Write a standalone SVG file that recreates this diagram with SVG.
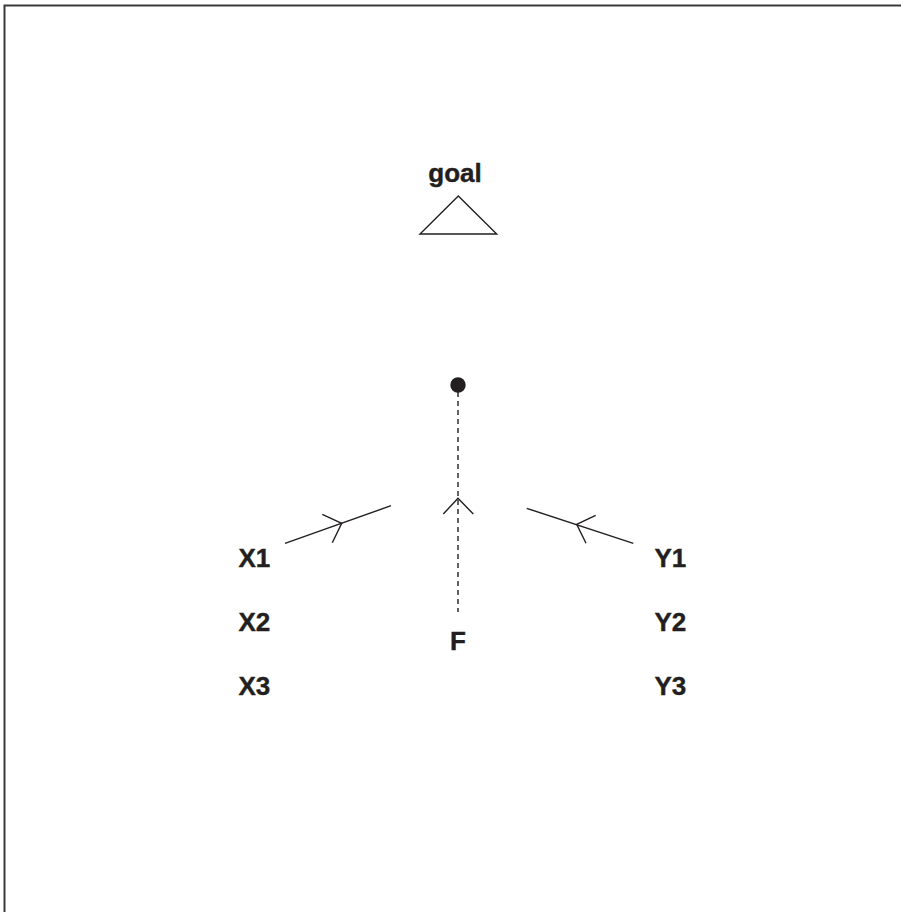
<svg xmlns="http://www.w3.org/2000/svg" width="901" height="912" viewBox="0 0 901 912">
<style>
.lbl{font-family:"Liberation Sans",Arial,Helvetica,sans-serif;font-weight:bold;font-size:26px;fill:#231f20;stroke:#231f20;stroke-width:0.4}
.ln{fill:none;stroke:#231f20;stroke-width:1.4}
.dash{fill:none;stroke:#231f20;stroke-width:1.4;stroke-dasharray:5 4}
</style>
<rect x="0" y="0" width="901" height="912" fill="#ffffff"/>
<path d="M4.5 912 V5.5 H901" fill="none" stroke="#3a3a3a" stroke-width="2"/>
<g id="goal">
<text class="lbl" x="455" y="182" text-anchor="middle">goal</text>
<polygon class="ln" points="458.3,196 420,234 496.7,234"/>
</g>
<g id="node-center">
<circle cx="458" cy="385" r="7.7" fill="#231f20"/>
</g>
<g id="X1"><text class="lbl" x="238.5" y="567">X1</text></g>
<g id="X2"><text class="lbl" x="238.5" y="631">X2</text></g>
<g id="X3"><text class="lbl" x="238.5" y="695">X3</text></g>
<g id="Y1"><text class="lbl" x="654.5" y="567">Y1</text></g>
<g id="Y2"><text class="lbl" x="654.5" y="631">Y2</text></g>
<g id="Y3"><text class="lbl" x="654.5" y="695">Y3</text></g>
<g id="F"><text class="lbl" x="458" y="650" text-anchor="middle">F</text></g>
<g id="connectors">
<line class="dash" x1="458" y1="392" x2="458" y2="612"/>
<polyline class="ln" points="443.3,514 458,498.3 473.3,514"/>
<line class="ln" x1="285" y1="543.3" x2="391" y2="505.7"/>
<polyline class="ln" points="322.3,514.3 341.7,523.3 332.3,542.7"/>
<line class="ln" x1="633.3" y1="543.3" x2="526.7" y2="508.3"/>
<polyline class="ln" points="595.7,515.3 576.7,524.3 586,543.3"/>
</g>
</svg>
